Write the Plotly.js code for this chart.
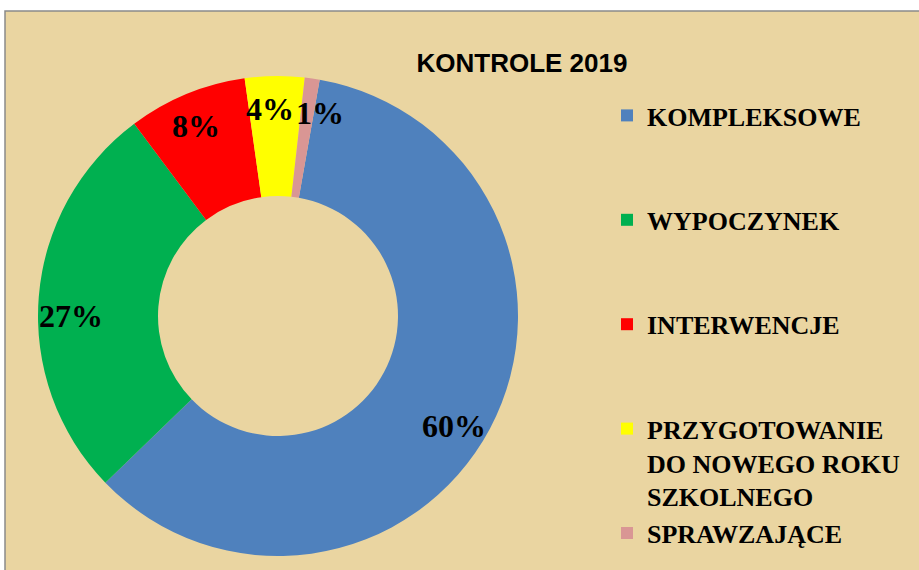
<!DOCTYPE html>
<html>
<head>
<meta charset="utf-8">
<script src="https://cdn.plot.ly/plotly-3.0.1.min.js"></script>
<style>
  html, body { margin: 0; padding: 0; background: #ffffff; }
  #chart { width: 919px; height: 570px; }
</style>
</head>
<body>
<div id="chart"></div>
<script>
// ---- data ----
const categories = ['KOMPLEKSOWE', 'WYPOCZYNEK', 'INTERWENCJE', 'PRZYGOTOWANIE DO NOWEGO ROKU SZKOLNEGO', 'SPRAWZAJĄCE'];
const legendLines = [['KOMPLEKSOWE'], ['WYPOCZYNEK'], ['INTERWENCJE'], ['PRZYGOTOWANIE', 'DO NOWEGO ROKU', 'SZKOLNEGO'], ['SPRAWZAJĄCE']];
const values = [60, 27, 8, 4, 1];
const percentLabels = ['60%', '27%', '8%', '4%', '1%'];
const colors = ['#4F81BD', '#00B050', '#FF0000', '#FFFF00', '#D99694'];
const chartTitle = 'KONTROLE 2019';

// ---- layout / style ----
const W = 919, H = 570;
const cx = 278, cy = 316, R = 240;
const rotation = 10;
const labelRadiusFrac = 0.8625;
const labelAngleNudge = [4, -4.5, -1, -1.5, 3.5];   // degrees, to mimic best-fit label placement

// legend labels padded to equal 3-line height (except last)
const legendLabels = legendLines.map((lines, i) => {
  const l = lines.slice();
  if (i < legendLines.length - 1) while (l.length < 3) l.push(' ');
  return l.join('<br>');
});

// percentage labels placed along the ring, derived from the values
const total = values.reduce((a, b) => a + b, 0);
let acc = 0;
const annotations = values.map((v, i) => {
  const mid = rotation + (acc + v / 2) / total * 360 + labelAngleNudge[i];
  acc += v;
  const a = mid * Math.PI / 180;
  const r = R * labelRadiusFrac;
  const px = cx + r * Math.sin(a);
  const py = cy - r * Math.cos(a);
  return {
    xref: 'paper', yref: 'paper',
    x: px / W, y: (H - py) / H,
    xanchor: 'center', yanchor: 'middle',
    text: percentLabels[i], showarrow: false,
    font: { family: 'Liberation Serif, Times New Roman, serif', size: 32, color: '#000000', weight: 'bold' }
  };
});

const trace = {
  type: 'pie',
  labels: legendLabels,
  values: values,
  customdata: categories,
  hole: 0.5,
  sort: false,
  direction: 'clockwise',
  rotation: rotation,
  marker: { colors: colors, line: { width: 0 } },
  textinfo: 'none',
  hovertemplate: '%{customdata}: %{value}%<extra></extra>',
  domain: { x: [(cx - R) / W, (cx + R) / W], y: [(H - cy - R) / H, (H - cy + R) / H] }
};

const layout = {
  width: W, height: H,
  margin: { l: 0, r: 0, t: 0, b: 0 },
  paper_bgcolor: '#ffffff',
  title: {
    text: '<b>' + chartTitle + '</b>',
    x: 522 / W, y: 1 - 63 / H, xanchor: 'center', yanchor: 'middle',
    font: { family: 'Liberation Sans, Arial, sans-serif', size: 26, color: '#000000' }
  },
  showlegend: true,
  legend: {
    x: 607 / W, y: 1 - 92 / H, xanchor: 'left', yanchor: 'top',
    bgcolor: 'rgba(0,0,0,0)', valign: 'top', itemwidth: 30,
    font: { family: 'Liberation Serif, Times New Roman, serif', size: 26, color: '#000000', weight: 'bold' }
  },
  shapes: [{
    type: 'rect', xref: 'paper', yref: 'paper', layer: 'below',
    x0: 5 / W, x1: 1.01, y0: -0.01, y1: 1 - 11 / H,
    fillcolor: '#EAD5A1', line: { color: '#8A8A8A', width: 1.5 }
  }],
  annotations: annotations
};

Plotly.newPlot('chart', [trace], layout, { displayModeBar: false, staticPlot: true });
</script>
</body>
</html>
